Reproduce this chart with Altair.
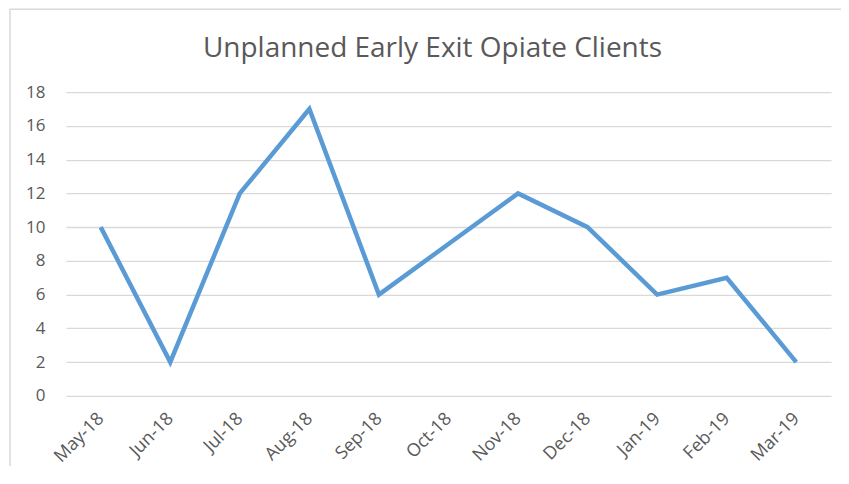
import altair as alt
import pandas as pd

months = ["May-18", "Jun-18", "Jul-18", "Aug-18", "Sep-18", "Oct-18",
          "Nov-18", "Dec-18", "Jan-19", "Feb-19", "Mar-19"]
values = [10, 2, 12, 17, 6, 9, 12, 10, 6, 7, 2]
title_text = ["Unplanned Early Exit Opiate Clients"]

df = pd.DataFrame({"month": months, "value": values})

FONT = "Open Sans"
GREY = "#595959"

frame = alt.Chart(pd.DataFrame({"a": [0]})).mark_rect(
    fill="transparent", stroke="#D9D9D9", strokeWidth=1.5, clip=False
).encode(
    x=alt.value(-56), x2=alt.value(820),
    y=alt.value(-83), y2=alt.value(392),
)

title = alt.Chart(pd.DataFrame({"t": title_text})).mark_text(
    font=FONT, fontSize=28, color=GREY, align="center", baseline="alphabetic", clip=False
).encode(
    text="t:N", x=alt.value(367), y=alt.value(-35),
)

line = alt.Chart(df).mark_line(color="#5B9BD5", strokeWidth=4.5, strokeJoin="miter").encode(
    x=alt.X("month:N", sort=months, title=None,
            scale=alt.Scale(paddingOuter=0.5),
            axis=alt.Axis(labelAngle=-45, labelAlign="right", labelBaseline="middle",
                          labelPadding=20, ticks=False, domain=False, grid=False,
                          labelFont=FONT, labelFontSize=18, labelColor=GREY)),
    y=alt.Y("value:Q", title=None,
            scale=alt.Scale(domain=[0, 18], nice=False),
            axis=alt.Axis(values=list(range(0, 19, 2)), ticks=False, domain=False,
                          labelPadding=21, gridColor="#D9D9D9", gridWidth=1.3,
                          labelFont=FONT, labelFontSize=17, labelColor=GREY)),
)

chart = alt.layer(frame, title, line).properties(
    width=766, height=304,
    autosize=alt.AutoSizeParams(type="none"),
    padding={"left": 58, "top": 84, "right": 10, "bottom": 70},
).configure_view(stroke=None)

chart.save("out.html", embed_options={"renderer": "svg", "actions": False})
